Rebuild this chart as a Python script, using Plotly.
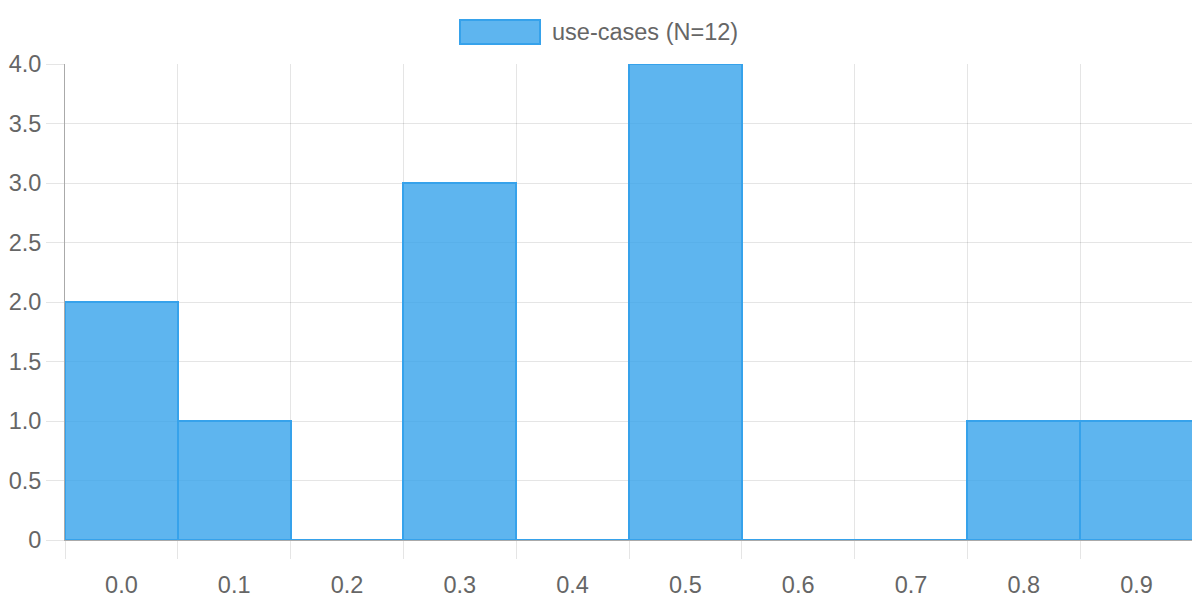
import plotly.graph_objects as go

categories = ["0.0", "0.1", "0.2", "0.3", "0.4", "0.5", "0.6", "0.7", "0.8", "0.9"]
counts = [2, 1, 0, 3, 0, 4, 0, 0, 1, 1]
series_name = "use-cases (N=12)"
y_ticks = [0, 0.5, 1.0, 1.5, 2.0, 2.5, 3.0, 3.5, 4.0]
y_labels = ["0", "0.5", "1.0", "1.5", "2.0", "2.5", "3.0", "3.5", "4.0"]

x_pos = [i + 0.5 for i in range(len(categories))]

FONT = "Liberation Sans, Arial, sans-serif"
FS = 23.5
fill = "rgba(54,162,235,0.8)"
edge = "rgb(54,162,235)"

fig = go.Figure()
fig.add_trace(go.Bar(
    x=x_pos, y=counts, width=1,
    marker=dict(color=fill, line=dict(color=edge, width=2)),
    name=series_name, showlegend=False,
))

fig.update_layout(
    width=1200, height=600,
    margin=dict(l=57, r=15, t=56, b=68, autoexpand=False),
    paper_bgcolor="white", plot_bgcolor="white",
    font=dict(family=FONT, size=FS, color="#666"),
    bargap=0,
    xaxis=dict(
        range=[0, len(categories)], automargin=False,
        tickmode="array", tickvals=x_pos, ticktext=categories,
        showgrid=False, ticks="outside", ticklen=24, tickcolor="rgba(0,0,0,0)",
        tickfont=dict(size=FS, color="#666"),
        minor=dict(tickmode="linear", tick0=0, dtick=1, showgrid=True,
                   gridcolor="rgba(0,0,0,0.1)", gridwidth=1,
                   ticks="outside", ticklen=18, tickcolor="rgba(0,0,0,0.1)"),
        showline=True, linecolor="#aaa", linewidth=1,
        zeroline=False, fixedrange=True,
    ),
    yaxis=dict(
        range=[0, 4], automargin=False,
        tickmode="array", tickvals=y_ticks, ticktext=y_labels,
        showgrid=True, gridcolor="rgba(0,0,0,0.1)", gridwidth=1,
        ticks="outside", ticklen=18, tickcolor="rgba(0,0,0,0.1)",
        tickfont=dict(size=FS, color="#666"),
        showline=True, linecolor="#aaa", linewidth=1,
        zeroline=False, fixedrange=True,
    ),
)

# legend drawn manually to match the wide swatch
PW, PH, PL, PB = 1128, 476, 65, 540
fig.add_shape(type="rect", xref="paper", yref="paper",
              x0=(460 - PL) / PW, x1=(540 - PL) / PW,
              y0=(PB - 44) / PH, y1=(PB - 20) / PH,
              fillcolor=fill, line=dict(color=edge, width=2))
fig.add_annotation(xref="paper", yref="paper",
                   x=(550 - PL) / PW, y=(PB - 32) / PH,
                   xanchor="left", yanchor="middle", showarrow=False,
                   text=series_name, font=dict(family=FONT, size=FS, color="#666"))

fig.write_html("out.html")
